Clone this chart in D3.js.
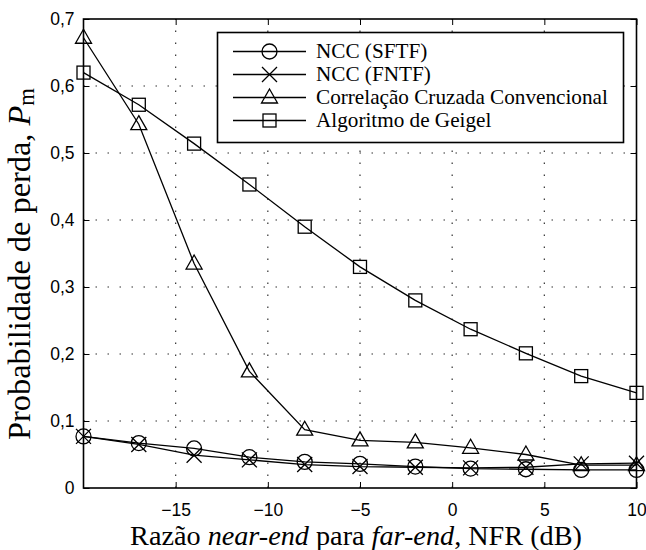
<!DOCTYPE html>
<html><head><meta charset="utf-8">
<script src="https://cdn.jsdelivr.net/npm/d3@7"></script>
<style>body{margin:0;background:#fff}</style>
</head><body>
<script>
const xValues = [-20,-17,-14,-11,-8,-5,-2,1,4,7,10];
const nccSFTF = [0.077,0.067,0.059,0.046,0.039,0.036,0.032,0.029,0.028,0.027,0.027];
const nccFNTF = [0.077,0.065,0.049,0.042,0.035,0.032,0.031,0.030,0.031,0.036,0.037];
const ccConv  = [0.672,0.543,0.335,0.174,0.087,0.071,0.068,0.060,0.050,0.034,0.034];
const geigel  = [0.620,0.572,0.514,0.453,0.390,0.330,0.280,0.237,0.201,0.167,0.142];
const seriesNames = ["NCC (SFTF)","NCC (FNTF)","Correlação Cruzada Convencional","Algoritmo de Geigel"];
const seriesMarkers = ["circle","x","triangle","square"];
const xTicks = [-15,-10,-5,0,5,10];
const yTicks = [0,0.1,0.2,0.3,0.4,0.5,0.6,0.7];

const SANS="Liberation Sans", SERIF="Liberation Serif";
const W=646,H=550, L=83.5, R=636.5, T=19, B=488;
const svg=d3.select("body").append("svg").attr("width",W).attr("height",H);
const x=d3.scaleLinear().domain([-20,10]).range([L,R]);
const y=d3.scaleLinear().domain([0,0.7]).range([B,T]);

function fit(sel, target){
  const fs=parseFloat(sel.style("font-size"));
  const w=sel.node().getComputedTextLength();
  sel.style("font-size",(fs*target/w)+"px");
}

// grid
const g=svg.append("g");
xTicks.forEach(t=>{ if(t<10) g.append("line").attr("x1",x(t)).attr("x2",x(t)).attr("y1",B).attr("y2",T)
  .attr("stroke","#333").attr("stroke-width",1.2).attr("stroke-dasharray","1.5,10.5");});
yTicks.forEach(t=>{ if(t>0 && t<0.7) g.append("line").attr("x1",L).attr("x2",R).attr("y1",y(t)).attr("y2",y(t))
  .attr("stroke","#333").attr("stroke-width",1.2).attr("stroke-dasharray","1.5,10.5");});

// axes
const fmt=d=> d===0?"0":d3.format(".1f")(d).replace(".",",");
const xa=svg.append("g").attr("transform",`translate(0,${B})`)
  .call(d3.axisBottom(x).tickValues(xTicks).tickSizeInner(-6).tickSizeOuter(0).tickPadding(16).tickFormat(d=>d<0?"\u2212"+Math.abs(d):d));
const ya=svg.append("g").attr("transform",`translate(${L},0)`)
  .call(d3.axisLeft(y).tickValues(yTicks).tickSizeInner(-6).tickSizeOuter(0).tickPadding(9).tickFormat(fmt));
const xt=svg.append("g").attr("transform",`translate(0,${T})`)
  .call(d3.axisTop(x).tickValues(xTicks).tickSizeInner(-6).tickSizeOuter(0).tickFormat(""));
const yr=svg.append("g").attr("transform",`translate(${R},0)`)
  .call(d3.axisRight(y).tickValues(yTicks).tickSizeInner(-6).tickSizeOuter(0).tickFormat(""));
[xa,ya,xt,yr].forEach(a=>{a.select(".domain").remove();
  a.attr("font-family",null).attr("font-size",null);
  a.selectAll("line").attr("stroke","#000").attr("stroke-width",1);
  a.selectAll("text").style("font-family",SANS).style("font-size","17.5px").attr("fill","#000");});
svg.append("rect").attr("x",L).attr("y",T).attr("width",R-L).attr("height",B-T)
  .attr("fill","none").attr("stroke","#000").attr("stroke-width",1.6);

// series
const data=[nccSFTF,nccFNTF,ccConv,geigel];
const line=d3.line().x((d,i)=>x(xValues[i])).y(d=>y(d));
function marker(sel,type,cx,cy){
  const s="#000",sw=1.3;
  if(type==="circle") sel.append("circle").attr("cx",cx).attr("cy",cy).attr("r",7.5).attr("fill","none").attr("stroke",s).attr("stroke-width",sw);
  if(type==="x") sel.append("path").attr("d",`M${cx-7.5},${cy-7.5}L${cx+7.5},${cy+7.5}M${cx-7.5},${cy+7.5}L${cx+7.5},${cy-7.5}`).attr("stroke",s).attr("stroke-width",sw);
  if(type==="triangle") sel.append("path").attr("d",`M${cx},${cy-8.5}L${cx+8},${cy+5.5}L${cx-8},${cy+5.5}Z`).attr("fill","none").attr("stroke",s).attr("stroke-width",sw);
  if(type==="square") sel.append("rect").attr("x",cx-6.5).attr("y",cy-6.5).attr("width",13).attr("height",13).attr("fill","none").attr("stroke",s).attr("stroke-width",sw);
}
data.forEach((vals,k)=>{
  const sg=svg.append("g");
  sg.append("path").datum(vals).attr("d",line).attr("fill","none").attr("stroke","#000").attr("stroke-width",1.3);
  vals.forEach((v,i)=>marker(sg,seriesMarkers[k],x(xValues[i]),y(v)));
});

// legend
const lg=svg.append("g");
lg.append("rect").attr("x",217.5).attr("y",32.5).attr("width",406).attr("height",110).attr("fill","#fff").attr("stroke","#000").attr("stroke-width",1.6);
const rowsY=[51.5,74.5,97.5,120.5];
const legTexts=[];
seriesNames.forEach((n,k)=>{
  lg.append("line").attr("x1",233).attr("x2",306).attr("y1",rowsY[k]).attr("y2",rowsY[k]).attr("stroke","#000").attr("stroke-width",1.3);
  marker(lg,seriesMarkers[k],269.5,rowsY[k]);
  legTexts.push(lg.append("text").attr("x",316).attr("y",rowsY[k]+6.5).style("font-family",SERIF).style("font-size","19px").text(n));
});
const lfs=parseFloat(legTexts[2].style("font-size"))*292/legTexts[2].node().getComputedTextLength();
legTexts.forEach(t=>t.style("font-size",lfs+"px"));

// axis labels
const xl=svg.append("text").attr("x",356).attr("y",545).attr("text-anchor","middle").style("font-family",SERIF).style("font-size","20px");
xl.append("tspan").text("Razão ");
xl.append("tspan").style("font-style","italic").text("near-end");
xl.append("tspan").text(" para ");
xl.append("tspan").style("font-style","italic").text("far-end");
xl.append("tspan").text(", NFR (dB)");
fit(xl,452);
const yl=svg.append("text").attr("transform",`translate(29.5,264) rotate(-90)`).attr("text-anchor","middle").style("font-family",SERIF).style("font-size","20px");
yl.append("tspan").text("Probabilidade de perda, ");
yl.append("tspan").style("font-style","italic").text("P");
yl.append("tspan").style("font-size","0.7em").attr("dy",4).text("m");
fit(yl,352);
</script>
</body></html>
